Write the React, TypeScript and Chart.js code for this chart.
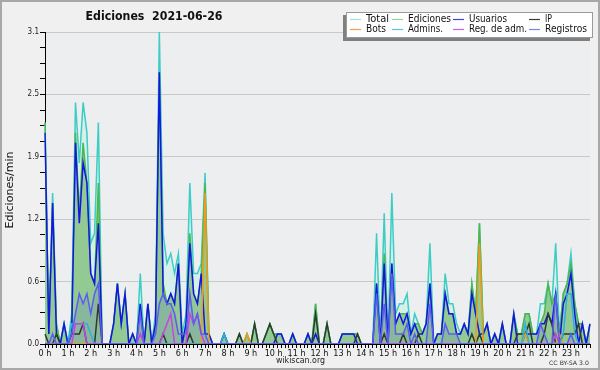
import React, { useEffect, useRef } from 'react';
import { Chart, registerables } from 'chart.js';

Chart.register(...registerables);

const HOUR_LABELS = ['0 h', '1 h', '2 h', '3 h', '4 h', '5 h', '6 h', '7 h', '8 h', '9 h', '10 h', '11 h',
  '12 h', '13 h', '14 h', '15 h', '16 h', '17 h', '18 h', '19 h', '20 h', '21 h', '22 h', '23 h'];
const Y_TICK_LABELS = ['0.0', '0.6', '1.2', '1.9', '2.5', '3.1'];
const Y_MAX = 3.1;

// 10-minute slots, edits per minute (6 values per hour)
const TOTAL = [
  2.2, 0.1, 1.5, 0.2, 0, 0.2,
  0, 0.3, 2.4, 1.8, 2.4, 2.1,
  1.0, 1.1, 2.2, 0, 0, 0,
  0.2, 0.6, 0.2, 0.5, 0, 0.1,
  0, 0.7, 0, 0.4, 0, 0.3,
  3.1, 1.1, 0.8, 0.9, 0.7, 0.9,
  0.1, 0.3, 1.6, 0.7, 0.7, 0.8,
  1.7, 0.1, 0, 0, 0, 0.1,
  0, 0, 0, 0.1, 0, 0.1,
  0, 0.2, 0, 0, 0.1, 0.2,
  0.1, 0.1, 0.1, 0, 0, 0.1,
  0, 0, 0, 0.1, 0, 0.4,
  0, 0, 0.2, 0, 0, 0,
  0.1, 0.1, 0.1, 0.1, 0.1, 0,
  0, 0, 0, 1.1, 0, 1.3,
  0, 1.5, 0.3, 0.4, 0.4, 0.5,
  0.1, 0.3, 0.2, 0.1, 0.2, 1.0,
  0, 0.1, 0.1, 0.7, 0.4, 0.4,
  0.2, 0.1, 0.2, 0.1, 0.6, 0.3,
  1.2, 0.1, 0.2, 0, 0.1, 0,
  0.2, 0, 0, 0.3, 0.1, 0.1,
  0.3, 0.3, 0.1, 0.1, 0.4, 0.4,
  0.6, 0.4, 1.0, 0.1, 0.5, 0.6,
  0.9, 0.4, 0.2, 0.2, 0, 0.2,
];

const EDICIONES = [
  2.2, 0.1, 1.4, 0.2, 0, 0.2,
  0, 0.2, 2.1, 1.3, 2.0, 1.6,
  0.7, 0.6, 1.6, 0, 0, 0,
  0.2, 0.6, 0.2, 0.5, 0, 0.1,
  0, 0.4, 0, 0.4, 0, 0.2,
  2.7, 0.6, 0.4, 0.5, 0.4, 0.8,
  0, 0.2, 1.1, 0.5, 0.4, 0.7,
  1.6, 0.1, 0, 0, 0, 0.1,
  0, 0, 0, 0.1, 0, 0.1,
  0, 0.2, 0, 0, 0.1, 0.2,
  0.1, 0.1, 0.1, 0, 0, 0.1,
  0, 0, 0, 0.1, 0, 0.4,
  0, 0, 0.2, 0, 0, 0,
  0.1, 0.1, 0.1, 0.1, 0.1, 0,
  0, 0, 0, 0.6, 0, 0.9,
  0, 0.8, 0.2, 0.3, 0.3, 0.3,
  0.1, 0.2, 0.2, 0.1, 0.2, 0.6,
  0, 0.1, 0.1, 0.5, 0.3, 0.3,
  0.1, 0.1, 0.2, 0.1, 0.6, 0.3,
  1.2, 0.1, 0.2, 0, 0.1, 0,
  0.2, 0, 0, 0.3, 0.1, 0.1,
  0.3, 0.3, 0.1, 0.1, 0.2, 0.3,
  0.6, 0.4, 0.5, 0.1, 0.5, 0.6,
  0.8, 0.4, 0.2, 0.2, 0, 0.2,
];

const USUARIOS = [
  2.1, 0.1, 1.4, 0.1, 0, 0.2,
  0, 0.1, 2.0, 1.2, 1.8, 1.6,
  0.7, 0.6, 1.2, 0, 0, 0,
  0.2, 0.6, 0.2, 0.5, 0, 0.1,
  0, 0.4, 0, 0.4, 0, 0.2,
  2.7, 0.5, 0.4, 0.5, 0.4, 0.8,
  0, 0.2, 1.0, 0.5, 0.4, 0.7,
  0.1, 0.1, 0, 0, 0, 0.1,
  0, 0, 0, 0, 0, 0,
  0, 0, 0, 0, 0, 0,
  0, 0.1, 0.1, 0, 0, 0.1,
  0, 0, 0, 0.1, 0, 0.1,
  0, 0, 0, 0, 0, 0,
  0.1, 0.1, 0.1, 0.1, 0, 0,
  0, 0, 0, 0.6, 0, 0.8,
  0, 0.8, 0.2, 0.3, 0.2, 0.3,
  0.1, 0.2, 0.1, 0.1, 0.2, 0.6,
  0, 0.1, 0.1, 0.5, 0.3, 0.3,
  0.1, 0.1, 0.2, 0.1, 0.5, 0.3,
  0.1, 0.1, 0.2, 0, 0.1, 0,
  0.2, 0, 0, 0.3, 0, 0,
  0.1, 0.1, 0.1, 0.1, 0.2, 0.2,
  0.3, 0.2, 0.5, 0, 0.4, 0.5,
  0.7, 0.3, 0, 0.2, 0, 0.2,
];

const IP = [
  0.1, 0, 0, 0.1, 0, 0,
  0, 0.1, 0.1, 0.1, 0.2, 0,
  0, 0, 0.4, 0, 0, 0,
  0, 0, 0, 0, 0, 0,
  0, 0, 0, 0, 0, 0,
  0, 0.1, 0, 0, 0, 0,
  0, 0, 0.1, 0, 0, 0,
  0, 0, 0, 0, 0, 0,
  0, 0, 0, 0.1, 0, 0,
  0, 0.2, 0, 0, 0.1, 0.2,
  0.1, 0, 0, 0, 0, 0,
  0, 0, 0, 0, 0, 0.3,
  0, 0, 0.2, 0, 0, 0,
  0, 0, 0, 0, 0.1, 0,
  0, 0, 0, 0, 0, 0.1,
  0, 0, 0, 0, 0.1, 0,
  0, 0, 0.1, 0, 0, 0,
  0, 0, 0, 0, 0, 0,
  0, 0, 0, 0, 0.1, 0,
  0.1, 0, 0, 0, 0, 0,
  0, 0, 0, 0, 0.1, 0.1,
  0.1, 0.2, 0, 0, 0, 0.1,
  0.3, 0.2, 0, 0, 0.1, 0.1,
  0.1, 0.1, 0.2, 0, 0, 0,
];

const BOTS = [
  0, 0, 0, 0, 0, 0,
  0, 0, 0, 0, 0, 0,
  0, 0, 0, 0, 0, 0,
  0, 0, 0, 0, 0, 0,
  0, 0, 0, 0, 0, 0,
  0, 0, 0, 0, 0, 0,
  0, 0, 0, 0, 0, 0,
  1.5, 0, 0, 0, 0, 0,
  0, 0, 0, 0, 0, 0.1,
  0, 0, 0, 0, 0, 0,
  0, 0, 0, 0, 0, 0,
  0, 0, 0, 0, 0, 0,
  0, 0, 0, 0, 0, 0,
  0, 0, 0, 0, 0, 0,
  0, 0, 0, 0, 0, 0,
  0, 0, 0, 0, 0, 0,
  0, 0, 0, 0, 0, 0,
  0, 0, 0, 0, 0, 0,
  0, 0, 0, 0, 0, 0,
  1.0, 0, 0, 0, 0, 0,
  0, 0, 0, 0, 0, 0,
  0.1, 0, 0, 0, 0, 0,
  0, 0, 0, 0.1, 0, 0,
  0, 0, 0, 0, 0, 0,
];

const ADMINS = [
  0, 0, 0, 0, 0, 0,
  0, 0.2, 0.2, 0.2, 0.2, 0.2,
  0.1, 0, 0, 0, 0, 0,
  0, 0, 0, 0, 0, 0,
  0, 0, 0, 0, 0, 0,
  0, 0, 0, 0, 0, 0,
  0, 0, 0, 0, 0, 0,
  0, 0, 0, 0, 0, 0.1,
  0, 0, 0, 0, 0, 0,
  0, 0, 0, 0, 0, 0,
  0, 0, 0, 0, 0, 0,
  0, 0, 0, 0, 0, 0,
  0, 0, 0, 0, 0, 0,
  0, 0, 0, 0, 0, 0,
  0, 0, 0, 0, 0, 0,
  0, 0, 0, 0, 0, 0,
  0, 0, 0, 0, 0, 0,
  0, 0, 0, 0, 0, 0,
  0, 0, 0, 0, 0, 0,
  0, 0, 0, 0, 0, 0,
  0, 0, 0, 0, 0, 0,
  0.2, 0, 0, 0, 0, 0,
  0, 0, 0, 0, 0.1, 0.5,
  0.5, 0.1, 0, 0, 0, 0,
];

const REG_ADM = [
  0, 0, 0, 0, 0, 0,
  0, 0, 0.2, 0.2, 0.2, 0,
  0, 0, 0, 0, 0, 0,
  0, 0, 0, 0, 0, 0,
  0, 0.1, 0, 0, 0, 0,
  0, 0.1, 0.2, 0.3, 0, 0,
  0, 0, 0.3, 0.2, 0.3, 0.1,
  0, 0, 0, 0, 0, 0,
  0, 0, 0, 0, 0, 0,
  0, 0, 0, 0, 0, 0,
  0, 0, 0, 0, 0, 0,
  0, 0, 0, 0, 0, 0,
  0, 0, 0, 0, 0, 0,
  0, 0, 0, 0, 0, 0,
  0, 0, 0, 0, 0, 0,
  0, 0, 0, 0, 0, 0,
  0, 0, 0, 0, 0, 0,
  0, 0, 0, 0, 0, 0,
  0, 0, 0, 0, 0, 0,
  0, 0, 0, 0, 0, 0,
  0, 0, 0, 0, 0, 0,
  0, 0, 0, 0, 0, 0,
  0, 0, 0.1, 0, 0, 0,
  0, 0, 0, 0, 0, 0,
];

const REGISTROS = [
  0, 0, 0.1, 0, 0, 0,
  0, 0.1, 0.3, 0.5, 0.4, 0.5,
  0.3, 0.5, 0.6, 0, 0, 0,
  0, 0, 0, 0, 0, 0,
  0, 0.3, 0, 0, 0, 0.1,
  0.4, 0.5, 0.4, 0.4, 0.3, 0.1,
  0.1, 0.1, 0.5, 0.2, 0.3, 0.1,
  0.1, 0, 0, 0, 0, 0,
  0, 0, 0, 0, 0, 0,
  0, 0, 0, 0, 0, 0,
  0, 0, 0, 0, 0, 0,
  0, 0, 0, 0, 0, 0,
  0, 0, 0, 0, 0, 0,
  0, 0, 0, 0, 0, 0,
  0, 0, 0, 0.5, 0, 0.4,
  0, 0.7, 0.1, 0.1, 0.1, 0.2,
  0, 0.1, 0, 0, 0, 0.4,
  0, 0, 0, 0.2, 0.1, 0.1,
  0.1, 0, 0, 0, 0, 0,
  0, 0, 0, 0, 0, 0,
  0, 0, 0, 0, 0, 0,
  0, 0, 0, 0, 0.2, 0.1,
  0, 0, 0.5, 0, 0, 0,
  0.1, 0, 0, 0, 0, 0,
];

const SERIES_NAMES = ['Total', 'Ediciones', 'Usuarios', 'IP', 'Bots', 'Admins.', 'Reg. de adm.', 'Registros'];
const COLORS = {
  total: '#3ccdc4',
  totalFill: '#d6efea',
  ed: '#4cb84c',
  edFill: '#93c993',
  usu: '#1414e6',
  ip: '#2e3a2e',
  bots: '#f09a1c',
  admins: '#2cb0e0',
  regadm: '#c844e0',
  reg: '#5c5cf0',
  regFill: 'rgba(80,80,220,0.15)',
};
const LEGEND_COLORS = ['#a6e2dc', '#96d496', '#4444e4', '#3a3a3a', '#f0a040', '#58c4e4', '#cc5ce4', '#8080ec'];

const FONT_FAMILY = "'DejaVu Sans Condensed', 'DejaVu Sans', sans-serif";

function fitText(ctx: CanvasRenderingContext2D, text: string, x: number, y: number, width: number,
  font: string, align: CanvasTextAlign, color: string) {
  ctx.save();
  ctx.font = font;
  const w = ctx.measureText(text).width || 1;
  ctx.translate(x, y);
  ctx.scale(width / w, 1);
  ctx.textAlign = align;
  ctx.textBaseline = 'middle';
  ctx.fillStyle = color;
  ctx.fillText(text, 0, 0);
  ctx.restore();
}

const bgPlugin = {
  id: 'bgPlugin',
  beforeDraw(chart: any) {
    const { ctx, chartArea: a } = chart;
    ctx.save();
    ctx.fillStyle = '#f0f0f0';
    ctx.fillRect(0, 0, chart.width, chart.height);
    ctx.fillStyle = '#eceef0';
    ctx.fillRect(a.left, a.top, a.right - a.left, a.bottom - a.top);
    ctx.restore();
  },
};

const decoPlugin = {
  id: 'decoPlugin',
  afterDraw(chart: any) {
    const ctx: CanvasRenderingContext2D = chart.ctx;
    ctx.save();
    // outer border
    ctx.strokeStyle = '#a8a8a8';
    ctx.lineWidth = 2;
    ctx.strokeRect(1, 1, chart.width - 2, chart.height - 2);

    // title
    fitText(ctx, 'Ediciones  2021-06-26', 154, 16.5, 137, `bold 12px ${FONT_FAMILY}`, 'center', '#111');

    // y axis title
    ctx.save();
    ctx.translate(10, 190);
    ctx.rotate(-Math.PI / 2);
    fitText(ctx, 'Ediciones/min', 0, 0, 77, `11px ${FONT_FAMILY}`, 'center', '#111');
    ctx.restore();

    // footer
    fitText(ctx, 'wikiscan.org', 300.5, 361, 49, `9px ${FONT_FAMILY}`, 'center', '#222');
    fitText(ctx, 'CC BY-SA 3.0', 589, 363, 40, `6px ${FONT_FAMILY}`, 'right', '#333');

    // legend
    const bx = 346, by = 12, bw = 247, bh = 26;
    ctx.fillStyle = '#808080';
    ctx.fillRect(bx - 3, by + 3, bw, bh);
    ctx.fillStyle = '#ffffff';
    ctx.fillRect(bx, by, bw, bh);
    ctx.strokeStyle = '#9a9a9a';
    ctx.lineWidth = 1;
    ctx.strokeRect(bx + 0.5, by + 0.5, bw - 1, bh - 1);

    const colX = [366, 408, 469, 545];
    const rowY = [19, 29];
    const widths = [23, 43, 38, 7, 20, 35, 58, 42];
    SERIES_NAMES.forEach((name, k) => {
      const col = k % 4;
      const row = Math.floor(k / 4);
      const tx = colX[col];
      const ty = rowY[row];
      ctx.strokeStyle = LEGEND_COLORS[k];
      ctx.lineWidth = 1.2;
      ctx.beginPath();
      ctx.moveTo(tx - 16, ty + 0.5);
      ctx.lineTo(tx - 5, ty + 0.5);
      ctx.stroke();
      fitText(ctx, name, tx, ty, widths[k], `10px ${FONT_FAMILY}`, 'left', '#111');
    });
    ctx.restore();
  },
};

export default function App() {
  const ref = useRef<HTMLCanvasElement>(null);

  useEffect(() => {
    const slots = TOTAL.length;
    const labels = Array.from({ length: slots }, (_, i) => `${Math.floor(i / 6)}:${i % 6}0`);
    const line = (label: string, data: number[], color: string, fill: any = false, bg?: string) => ({
      label,
      data,
      borderColor: color,
      backgroundColor: bg || color,
      borderWidth: 1.5,
      pointRadius: 0,
      tension: 0,
      fill,
    });

    const chart = new Chart(ref.current as HTMLCanvasElement, {
      type: 'line',
      data: {
        labels,
        datasets: [
          line('Registros', REGISTROS, COLORS.reg, 'origin', COLORS.regFill),
          line('Reg. de adm.', REG_ADM, COLORS.regadm),
          line('Admins.', ADMINS, COLORS.admins),
          line('Bots', BOTS, COLORS.bots),
          line('IP', IP, COLORS.ip),
          line('Usuarios', USUARIOS, COLORS.usu),
          line('Ediciones', EDICIONES, COLORS.ed, 'origin', COLORS.edFill),
          line('Total', TOTAL, COLORS.total, 'origin', COLORS.totalFill),
        ],
      },
      options: {
        responsive: false,
        animation: false,
        layout: { padding: { left: 0, top: 32, right: 10, bottom: 0 } },
        plugins: {
          legend: { display: false },
          tooltip: { enabled: false },
          title: { display: false },
          filler: { drawTime: 'beforeDatasetsDraw' },
        } as any,
        scales: {
          x: {
            type: 'category',
            offset: false,
            grid: { drawOnChartArea: false, drawTicks: true, tickLength: 4, tickColor: '#000', tickWidth: 1 },
            border: { display: true, color: '#000', width: 1 },
            ticks: {
              autoSkip: false,
              maxRotation: 0,
              minRotation: 0,
              padding: 0,
              color: '#111',
              font: { family: FONT_FAMILY, size: 9 },
              callback: (_v: any, i: number) => (i % 6 === 0 ? HOUR_LABELS[i / 6] : ''),
            },
            afterFit: (s: any) => { s.height = 26; },
          },
          y: {
            type: 'linear',
            min: 0,
            max: Y_MAX,
            afterBuildTicks: (s: any) => {
              s.ticks = Array.from({ length: 21 }, (_, k) => ({ value: (Y_MAX * k) / 20 }));
            },
            grid: {
              color: (c: any) => (c.index % 4 === 0 ? '#c9c9c9' : 'rgba(0,0,0,0)'),
              tickColor: '#000',
              tickLength: 5,
              drawTicks: true,
            },
            border: { display: true, color: '#000', width: 1 },
            ticks: {
              autoSkip: false,
              padding: 1,
              color: '#222',
              font: { family: FONT_FAMILY, size: 8 },
              callback: (_v: any, i: number) => (i % 4 === 0 ? Y_TICK_LABELS[i / 4] : ''),
            },
            afterFit: (s: any) => { s.width = 45; },
          },
        },
      } as any,
      plugins: [bgPlugin, decoPlugin],
    });
    return () => chart.destroy();
  }, []);

  return (
    <div style={{ position: 'fixed', left: 0, top: 0, width: 600, height: 370 }}>
      <canvas ref={ref} width={600} height={370} style={{ display: 'block' }} />
    </div>
  );
}
